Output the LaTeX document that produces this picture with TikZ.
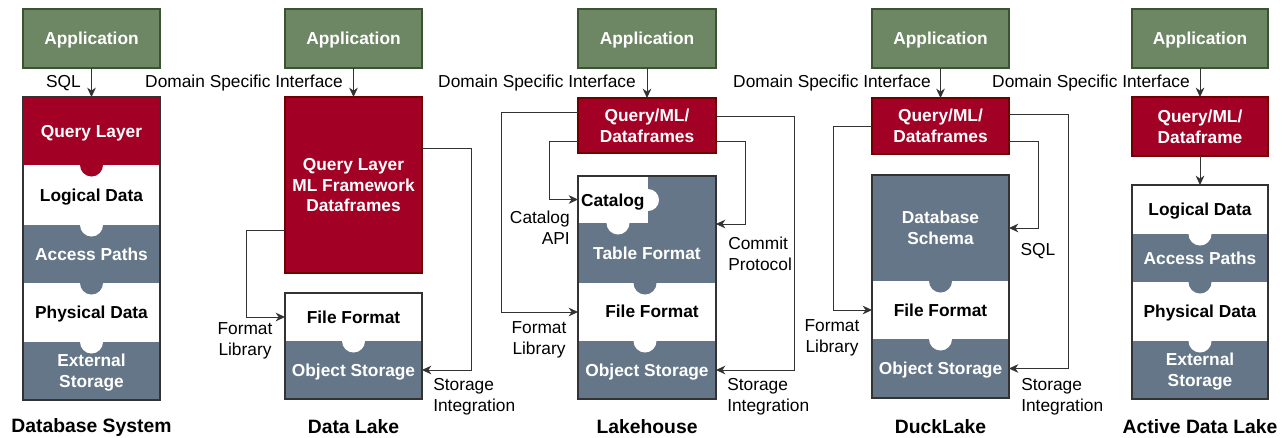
\documentclass[tikz,border=0pt]{standalone}
\usepackage{fontspec}
\setmainfont{Liberation Sans}
\usetikzlibrary{arrows.meta}
\definecolor{appg}{HTML}{6D8764}
\definecolor{appd}{HTML}{3A5431}
\definecolor{qred}{HTML}{A20025}
\definecolor{qredd}{HTML}{6F0000}
\definecolor{slate}{HTML}{647687}
\definecolor{slated}{HTML}{314354}
\definecolor{edge}{HTML}{333333}
\newcommand\blk[7]{\node[#6, minimum width={(#4-#2)*0.75pt}, minimum height={(#5-#3)*0.75pt}] (#1) at ({(#2+#4)/2},{(#3+#5)/2}) {#7};}
\newcommand\bumpd[4]{\begin{scope}\clip ({#2-#4-1},#3) rectangle ({#2+#4+1},{#3+#4+1}); \fill[#1] (#2,#3) circle[radius=#4]; \end{scope}}
\newcommand\bumpr[4]{\begin{scope}\clip (#2,{#3-#4-1}) rectangle ({#2+#4+1},{#3+#4+1}); \fill[#1] (#2,#3) circle[radius=#4]; \end{scope}}
\begin{document}
\begin{tikzpicture}[x=0.75pt,y=-0.75pt,
  base/.style={inner sep=0pt, outer sep=0pt, align=center, text depth=0pt, font=\fontsize{13}{15.5}\selectfont\bfseries},
  app/.style={base, fill=appg, draw=appd, line width=0.8pt, text=white},
  red/.style={base, fill=qred, draw=qredd, line width=0.8pt, text=white},
  redl/.style={base, fill=qred, text=white},
  wl/.style={base, fill=white, text=black},
  gl/.style={base, fill=slate, text=white},
  stackb/.style={draw=edge, line width=0.8pt},
  conn/.style={draw=edge, line width=0.75pt, -{Stealth[length=7pt,width=6.5pt,inset=2.2pt]}},
  lbl/.style={inner sep=0pt, yshift=-1.5pt, font=\fontsize{13}{15.5}\selectfont},
  ttl/.style={inner sep=0pt, yshift=-1.5pt, font=\fontsize{14.5}{17}\selectfont\bfseries}]
\useasboundingbox (0,0) rectangle (1286,437);
% ---------- Database System ----------
\blk{app1}{23}{9}{160}{68}{app}{Application}
\blk{q1}{23}{97}{160}{165}{redl}{Query Layer}
\blk{l1}{23}{165}{160}{225}{wl}{Logical Data}
\blk{a1}{23}{225}{160}{283}{gl}{Access Paths}
\blk{p1}{23}{283}{160}{342}{wl}{Physical Data}
\blk{e1}{23}{342}{160}{400}{gl}{External\\Storage}
\bumpd{qred}{91.5}{165}{11.5}
\bumpd{white}{91.5}{225}{11.5}
\bumpd{slate}{91.5}{283}{11.5}
\bumpd{white}{91.5}{342}{11.5}
\draw[stackb] (q1.north west) rectangle (e1.south east);
\draw[conn] (app1) -- (q1);
\node[lbl, anchor=east] (sqlA) at (81,81) {SQL};
\node[ttl] (t1) at (91.5,425) {Database System};
% ---------- Data Lake ----------
\blk{app2}{285}{9}{422}{68}{app}{Application}
\blk{q2}{285}{97}{422}{273}{red}{Query Layer\\ML Framework\\Dataframes}
\blk{ff2}{285}{293}{422}{341}{wl}{File Format}
\blk{os2}{285}{341}{422}{399}{gl}{Object Storage}
\bumpd{white}{353.5}{341}{11.5}
\draw[stackb] (ff2.north west) rectangle (os2.south east);
\draw[conn] (app2) -- (q2);
\node[lbl, anchor=east] (dsi2) at (343,81) {Domain Specific Interface};
\draw[conn] (q2.west |- 0,230) -- (246,230) |- (ff2.west);
\node[lbl, align=center] (fl2) at (245,339) {Format\\Library};
\draw[conn] (q2.east |- 0,148) -- (471,148) |- (os2.east);
\node[lbl, align=left, anchor=west] (si2) at (433,395) {Storage\\Integration};
\node[ttl] (t2) at (353.5,425) {Data Lake};
% ---------- Lakehouse ----------
\blk{app3}{578}{9}{716}{68}{app}{Application}
\blk{q3}{578}{98}{716}{153}{red}{Query/ML/\\Dataframes}
\blk{tf3}{578}{176}{716}{283}{gl}{}
\blk{cat3}{578}{176}{648}{223}{wl}{}
\blk{ff3}{578}{283}{716}{341}{wl}{}
\blk{os3}{578}{341}{716}{399}{gl}{Object Storage}
\bumpr{white}{648}{200}{11}
\bumpd{white}{618}{223}{11.5}
\bumpd{slate}{645}{283}{11.5}
\bumpd{white}{645}{341}{11.5}
\node[base, text=black, anchor=west] (catT) at (581,200) {Catalog};
\node[base, text=white] (tfT) at (647,253) {Table Format};
\node[base, text=black] (ffT) at (652,311) {File Format};
\draw[stackb] (tf3.north west) rectangle (os3.south east);
\draw[conn] (app3) -- (q3);
\node[lbl, anchor=east] (dsi3) at (636,81) {Domain Specific Interface};
\draw[conn] (q3.west |- 0,112) -- (501,112) |- (ff3.west);
\node[lbl, align=center] (fl3) at (539,338) {Format\\Library};
\draw[conn] (q3.west |- 0,141) -- (549,141) |- (cat3.west);
\node[lbl, align=right, anchor=east] (ca3) at (570,226) {Catalog\\API};
\draw[conn] (q3.east |- 0,141) -- (745,141) |- (tf3.east |- 0,224);
\node[lbl, align=left, anchor=west] (cp3) at (728,252) {Commit\\Protocol};
\draw[conn] (q3.east |- 0,116) -- (794,116) |- (os3.east);
\node[lbl, align=left, anchor=west] (si3) at (727,395) {Storage\\Integration};
\node[ttl] (t3) at (647,425) {Lakehouse};
% ---------- DuckLake ----------
\blk{app4}{872}{9}{1009}{68}{app}{Application}
\blk{q4}{872}{98}{1009}{154}{red}{Query/ML/\\Dataframes}
\blk{ds4}{872}{175}{1009}{281}{gl}{Database\\Schema}
\blk{ff4}{872}{281}{1009}{339}{wl}{File Format}
\blk{os4}{872}{339}{1009}{398}{gl}{Object Storage}
\bumpd{slate}{940.5}{281}{11.5}
\bumpd{white}{940.5}{339}{11.5}
\draw[stackb] (ds4.north west) rectangle (os4.south east);
\draw[conn] (app4) -- (q4);
\node[lbl, anchor=east] (dsi4) at (931,81) {Domain Specific Interface};
\draw[conn] (q4.west |- 0,126) -- (833,126) |- (ff4.west);
\node[lbl, align=center] (fl4) at (832,336) {Format\\Library};
\draw[conn] (q4.east |- 0,141) -- (1038,141) |- (ds4.east);
\node[lbl] (sql4) at (1038,249) {SQL};
\draw[conn] (q4.east |- 0,114) -- (1068,114) |- (os4.east);
\node[lbl, align=left, anchor=west] (si4) at (1021,395) {Storage\\Integration};
\node[ttl] (t4) at (940.5,425) {DuckLake};
% ---------- Active Data Lake ----------
\blk{app5}{1132}{9}{1268}{68}{app}{Application}
\blk{q5}{1132}{97}{1268}{156}{red}{Query/ML/\\Dataframe}
\blk{ld5}{1132}{185}{1268}{234}{wl}{Logical Data}
\blk{ap5}{1132}{234}{1268}{282}{gl}{Access Paths}
\blk{pd5}{1132}{282}{1268}{341}{wl}{Physical Data}
\blk{es5}{1132}{341}{1268}{399}{gl}{External\\Storage}
\bumpd{white}{1200}{234}{11.5}
\bumpd{slate}{1200}{282}{11.5}
\bumpd{white}{1200}{341}{11.5}
\draw[stackb] (ld5.north west) rectangle (es5.south east);
\draw[conn] (app5) -- (q5);
\draw[conn] (q5) -- (ld5);
\node[lbl, anchor=east] (dsi5) at (1190,81) {Domain Specific Interface};
\node[ttl] (t5) at (1200,425) {Active Data Lake};
\end{tikzpicture}
\end{document}
